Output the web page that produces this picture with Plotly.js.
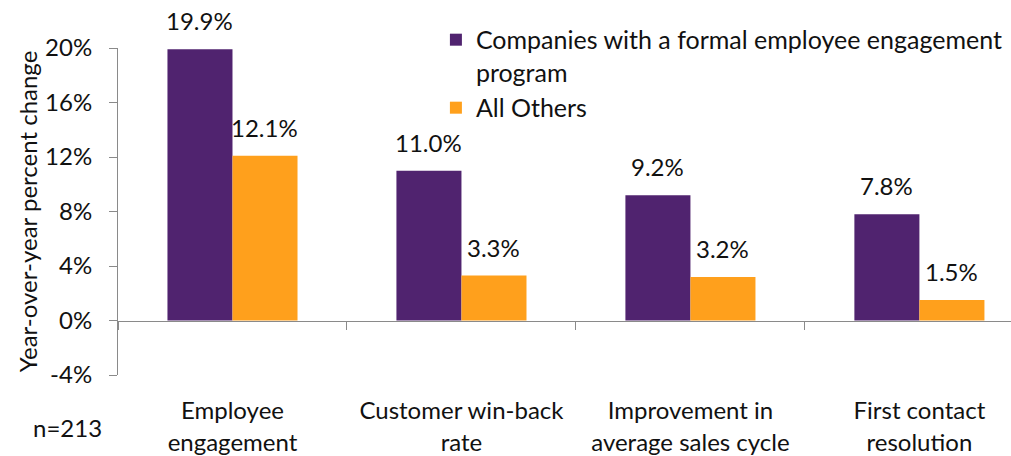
<!DOCTYPE html>
<html><head><meta charset="utf-8">
<script src="https://cdn.plot.ly/plotly-3.0.1.min.js"></script>
<style>html,body{margin:0;padding:0;overflow:hidden;background:#fff}</style>
</head><body><div id="chart" style="width:1011px;height:456px"></div>
<script>
const categories = ["Employee<br>engagement", "Customer win-back<br>rate", "Improvement in<br>average sales cycle", "First contact<br>resolution"];
const seriesNames = ["Companies with a formal employee engagement<br>program", "All Others"];
const formal = [19.9, 11.0, 9.2, 7.8];
const allOthers = [12.1, 3.3, 3.2, 1.5];
const yTicks = [-4, 0, 4, 8, 12, 16, 20];
const sampleNote = "n=213";

const FONT = "Lato, 'Source Sans Pro', sans-serif";
const FS = 24;
const purple = "#50236F", orange = "#FFA01C", axisGray = "#8a8a8a";
const yMin = -4, yMax = 20;

const traces = [
  {type: "bar", name: seriesNames[0], x: categories, y: formal, marker: {color: purple}, hoverinfo: "skip"},
  {type: "bar", name: seriesNames[1], x: categories, y: allOthers, marker: {color: orange}, hoverinfo: "skip"}
];

const annotations = [];
[formal, allOthers].forEach((vals, si) => {
  vals.forEach((v, i) => {
    annotations.push({x: categories[i], y: v, xref: "x", yref: "y", text: v.toFixed(1) + "%",
      showarrow: false, yanchor: "bottom", xshift: si === 0 ? -32.5 : 32.5, yshift: 12,
      font: {family: FONT, size: FS, color: "#111"}});
  });
});
annotations.push({xref: "paper", yref: "paper", x: -0.057, y: -0.16, xanchor: "center", yanchor: "middle",
  text: sampleNote, showarrow: false, font: {family: FONT, size: FS, color: "#111"}});

const layout = {
  width: 1011, height: 456,
  margin: {l: 118, r: 0, t: 48, b: 81},
  paper_bgcolor: "#fff", plot_bgcolor: "#fff",
  font: {family: FONT, size: FS, color: "#111"},
  barmode: "group", bargap: 0.432, bargroupgap: 0,
  showlegend: true,
  legend: {x: 0.356, y: 1.095, xanchor: "left", yanchor: "top", bgcolor: "rgba(0,0,0,0)",
    font: {family: FONT, size: 25, color: "#111"}, valign: "top", tracegroupgap: 0, itemwidth: 30},
  xaxis: {type: "category", range: [-0.5, 3.4], anchor: "free", position: (0 - yMin) / (yMax - yMin),
    showline: true, linecolor: axisGray, linewidth: 1, ticks: "outside", tickson: "boundaries",
    ticklen: 8, tickcolor: axisGray, showgrid: false, zeroline: false, automargin: false,
    ticklabelstandoff: 69, tickfont: {family: FONT, size: FS, color: "#111"}, fixedrange: true},
  yaxis: {range: [yMin, yMax], tickvals: yTicks, ticktext: yTicks.map(t => t + "%"),
    showline: true, linecolor: axisGray, linewidth: 1, ticks: "outside", ticklen: 8, tickcolor: axisGray,
    showgrid: false, zeroline: false, automargin: false, ticklabelstandoff: 12,
    tickfont: {family: FONT, size: FS, color: "#111"},
    title: {text: "Year-over-year percent change", standoff: 0, font: {family: FONT, size: FS, color: "#111"}},
    fixedrange: true},
  annotations: annotations
};

Plotly.newPlot("chart", traces, layout, {displayModeBar: false, staticPlot: true});
</script></body></html>
